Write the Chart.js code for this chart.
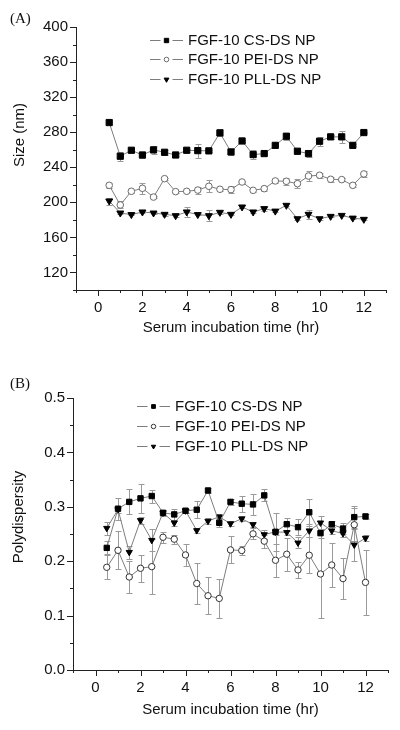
<!DOCTYPE html>
<html>
<head>
<meta charset="utf-8">
<title>FGF-10 nanoparticles in serum</title>
<script src="https://cdn.jsdelivr.net/npm/chart.js"></script>
<style>
  html, body { margin: 0; padding: 0; background: #fff; }
  #wrap { position: relative; width: 400px; height: 730px; }
  canvas { position: absolute; left: 0; }
</style>
</head>
<body>
<div id="wrap">
  <canvas id="chartA" width="400" height="365" style="top:0"></canvas>
  <canvas id="chartB" width="400" height="365" style="top:365px"></canvas>
</div>
<script>
// sampling times (hr)
const times = [0.5, 1, 1.5, 2, 2.5, 3, 3.5, 4, 4.5, 5, 5.5, 6,
               6.5, 7, 7.5, 8, 8.5, 9, 9.5, 10, 10.5, 11, 11.5, 12];

const seriesNames = ["FGF-10 CS-DS NP", "FGF-10 PEI-DS NP", "FGF-10 PLL-DS NP"];

// (A) size, nm
const csSize  = [291, 252.6, 259.4, 254, 259.8, 257.1, 254, 259.4, 259, 258.7, 279.2, 257.5,
                 270, 254.5, 255.6, 265, 275.4, 258.3, 255.6, 269.7, 274.7, 274.7, 265, 279.6];
const csSizeErr = [0, 5, 2, 3.5, 5, 3, 1, 2, 8, 1, 4, 3, 1, 5, 1, 2, 4, 3, 4, 5, 2, 7, 1, 1];
const peiSize = [219.4, 197, 212.6, 216, 206, 227, 212.2, 212.6, 214, 218.3, 214.9, 214.5,
                 223.2, 213.7, 215.6, 224.4, 224, 221.3, 230, 230.9, 226.3, 225.9, 219.4, 232.4];
const peiSizeErr = [3, 4, 2, 6, 1, 1, 1, 1, 4, 7, 2, 4, 1, 2, 3, 2, 4, 5, 6, 3, 3, 2, 2, 3];
const pllSize = [201.5, 187.8, 186, 189, 187.8, 186.3, 184.8, 189, 186, 184.8, 188.6, 186.3,
                 194.7, 189, 192.8, 190, 196.6, 181.3, 186.3, 181.3, 184, 185.1, 182, 180.6];
const pllSizeErr = [4, 1, 1, 1, 1, 2, 1, 6, 1, 6, 2, 1, 1, 1, 3, 1, 1, 1, 5, 1, 1, 1, 1, 1];

// (B) polydispersity
const csPdi  = [0.2245, 0.2965, 0.309, 0.3155, 0.3198, 0.289, 0.286, 0.2928, 0.2946, 0.330, 0.2706, 0.309,
                0.3057, 0.3044, 0.321, 0.254, 0.268, 0.2626, 0.290, 0.2515, 0.268, 0.260, 0.281, 0.2823];
const csPdiErr = [0.012, 0.02, 0.023, 0.027, 0.012, 0.005, 0.01, 0.004, 0.016, 0.004, 0.008, 0.006,
                  0.015, 0.02, 0.011, 0.035, 0.012, 0.015, 0.025, 0.008, 0.006, 0.01, 0.02, 0.005];
const peiPdi = [0.1888, 0.220, 0.171, 0.187, 0.190, 0.244, 0.2405, 0.2115, 0.159, 0.1365, 0.1316, 0.2208,
                0.2196, 0.2503, 0.2368, 0.2017, 0.2128, 0.184, 0.211, 0.1765, 0.193, 0.168, 0.267, 0.161];
const peiPdiErr = [0.022, 0.035, 0.03, 0.025, 0.05, 0.01, 0.008, 0.02, 0.038, 0.034, 0.036, 0.025,
                   0.008, 0.01, 0.012, 0.03, 0.03, 0.015, 0.033, 0.08, 0.04, 0.038, 0.03, 0.06];
const pllPdi = [0.2607, 0.295, 0.2165, 0.275, 0.2386, 0.289, 0.2706, 0.2928, 0.2565, 0.2737, 0.2817, 0.269,
                0.278, 0.2675, 0.249, 0.254, 0.253, 0.2337, 0.256, 0.2706, 0.256, 0.251, 0.230, 0.2424];
const pllPdiErr = [0.012, 0.006, 0.012, 0.006, 0.02, 0.005, 0.006, 0.004, 0.005, 0.005, 0.005, 0.005,
                   0.005, 0.005, 0.008, 0.005, 0.005, 0.01, 0.012, 0.012, 0.006, 0.006, 0.03, 0.005];

Chart.defaults.font.family = "'Liberation Sans', Arial, sans-serif";
Chart.defaults.font.size = 15;
Chart.defaults.color = "#111";

const toPoints = vals => times.map((t, i) => ({ x: t, y: vals[i] }));

// gray error bars under the markers
const errorBars = {
  id: "errorBars",
  beforeDatasetsDraw(chart) {
    const ctx = chart.ctx, xs = chart.scales.x, ys = chart.scales.y;
    ctx.save();
    ctx.strokeStyle = "#9a9a9a";
    ctx.lineWidth = 1;
    chart.data.datasets.forEach(ds => {
      if (!ds.errors) return;
      ds.data.forEach((p, i) => {
        const e = ds.errors[i];
        if (!e) return;
        const x = Math.round(xs.getPixelForValue(p.x)) + 0.5;
        const y1 = Math.round(ys.getPixelForValue(p.y + e)) + 0.5;
        const y2 = Math.round(ys.getPixelForValue(p.y - e)) + 0.5;
        ctx.beginPath();
        ctx.moveTo(x, y1); ctx.lineTo(x, y2);
        ctx.moveTo(x - 3, y1); ctx.lineTo(x + 3, y1);
        ctx.moveTo(x - 3, y2); ctx.lineTo(x + 3, y2);
        ctx.stroke();
      });
    });
    ctx.restore();
  }
};

// outward ticks, long for labelled values and short for the rest,
// plus legend, y title and panel letter
const decor = {
  id: "decor",
  afterDraw(chart, args, opts) {
    const ctx = chart.ctx, xs = chart.scales.x, ys = chart.scales.y, area = chart.chartArea;
    ctx.save();
    ctx.strokeStyle = "#222";
    ctx.lineWidth = 1;
    ctx.beginPath();
    xs.ticks.forEach(t => {
      const x = Math.round(xs.getPixelForValue(t.value)) + 0.5;
      ctx.moveTo(x, area.bottom);
      ctx.lineTo(x, area.bottom + (t.label === "" ? 3 : 6));
    });
    ys.ticks.forEach(t => {
      const y = Math.round(ys.getPixelForValue(t.value)) + 0.5;
      ctx.moveTo(area.left, y);
      ctx.lineTo(area.left - (t.label === "" ? 3 : 6), y);
    });
    ctx.stroke();

    // legend
    ctx.font = "15px 'Liberation Sans', Arial, sans-serif";
    ctx.textBaseline = "middle";
    ctx.textAlign = "left";
    chart.data.datasets.forEach((ds, i) => {
      const x0 = area.left + opts.legendX, xm = x0 + 16.5, x1 = x0 + 33;
      const y = Math.round(area.top + opts.legendY + i * opts.legendRow) + 0.5;
      ctx.strokeStyle = ds.borderColor;
      ctx.beginPath();
      ctx.moveTo(x0, y); ctx.lineTo(xm - 6, y);
      ctx.moveTo(xm + 6, y); ctx.lineTo(x1, y);
      ctx.stroke();
      ctx.fillStyle = ds.pointBackgroundColor;
      ctx.strokeStyle = ds.pointBorderColor;
      Chart.helpers.drawPoint(ctx, {
        pointStyle: ds.pointStyle, rotation: ds.pointRotation || 0,
        radius: ds.pointRadius * 0.7, borderWidth: 1
      }, xm, y);
      ctx.fillStyle = "#111";
      ctx.fillText(ds.label, x1 + 5, y);
    });

    // rotated y title
    ctx.save();
    ctx.translate(opts.yTitleX, area.top + opts.yTitleY);
    ctx.rotate(-Math.PI / 2);
    ctx.textAlign = "center";
    ctx.fillText(opts.yTitle, 0, 0);
    ctx.restore();

    // panel letter
    ctx.font = "15px 'Liberation Serif', 'Times New Roman', serif";
    ctx.fillText(opts.panel, 10, 19.5);
    ctx.restore();
  }
};

function makeDatasets(cs, csErr, pei, peiErr, pll, pllErr, big) {
  const line = "#7d7d7d";
  return [
    { label: seriesNames[0], data: toPoints(cs), errors: csErr,
      borderColor: line, borderWidth: 1,
      pointStyle: "rect", pointRadius: big ? 4.4 : 3.8,
      pointBackgroundColor: "#000", pointBorderColor: "#000", pointBorderWidth: 1 },
    { label: seriesNames[1], data: toPoints(pei), errors: peiErr,
      borderColor: line, borderWidth: 1,
      pointStyle: "circle", pointRadius: big ? 3.3 : 3.2,
      pointBackgroundColor: "#fff", pointBorderColor: big ? "#6a6a6a" : "#333", pointBorderWidth: 1 },
    { label: seriesNames[2], data: toPoints(pll), errors: pllErr,
      borderColor: line, borderWidth: 1,
      pointStyle: "triangle", pointRotation: 180, pointRadius: big ? 4 : 3.6,
      pointBackgroundColor: "#000", pointBorderColor: "#000", pointBorderWidth: 1 }
  ];
}

function makeOptions(cfg) {
  return {
    responsive: false,
    animation: false,
    layout: { padding: { left: 0, right: cfg.padRight, top: cfg.padTop, bottom: 0 } },
    plugins: {
      legend: { display: false },
      tooltip: { enabled: false },
      decor: cfg.decor
    },
    scales: {
      x: {
        type: "linear", min: -1, max: 13,
        ticks: { stepSize: 1, padding: 3, maxRotation: 0, autoSkip: false,
                 callback: v => (v % 2 === 0 ? v : "") },
        grid: { drawOnChartArea: false, drawTicks: true, tickLength: 6, color: "rgba(0,0,0,0)" },
        border: { color: "#222", width: 1 },
        title: { display: true, text: "Serum incubation time (hr)", padding: { top: 0, bottom: cfg.xTitlePad } },
        afterFit: s => { s.height = cfg.xHeight; }
      },
      y: {
        min: cfg.yMin, max: cfg.yMax,
        ticks: { stepSize: cfg.yStep, padding: 2, autoSkip: false, callback: cfg.yLabel },
        grid: { drawOnChartArea: false, drawTicks: true, tickLength: 6, color: "rgba(0,0,0,0)" },
        border: { color: "#222", width: 1 },
        afterFit: s => { s.width = cfg.yWidth; }
      }
    }
  };
}

new Chart(document.getElementById("chartA"), {
  type: "line",
  data: { datasets: makeDatasets(csSize, csSizeErr, peiSize, peiSizeErr, pllSize, pllSizeErr, true) },
  options: makeOptions({
    padTop: 27, padRight: 14, xHeight: 75, xTitlePad: 28, yWidth: 76,
    yMin: 100, yMax: 400, yStep: 20,
    yLabel: v => ((v - 120) % 40 === 0 ? v : ""),
    decor: { panel: "(A)", yTitle: "Size (nm)", yTitleX: 20, yTitleY: 108,
             legendX: 74, legendY: 12.5, legendRow: 19.5 }
  }),
  plugins: [errorBars, decor]
});

new Chart(document.getElementById("chartB"), {
  type: "line",
  data: { datasets: makeDatasets(csPdi, csPdiErr, peiPdi, peiPdiErr, pllPdi, pllPdiErr, false) },
  options: makeOptions({
    padTop: 33, padRight: 12, xHeight: 60, xTitlePad: 11, yWidth: 73,
    yMin: 0, yMax: 0.5, yStep: 0.05,
    yLabel: v => (Math.abs(Math.round(v * 10) - v * 10) < 1e-6 ? v.toFixed(1) : ""),
    decor: { panel: "(B)", yTitle: "Polydispersity", yTitleX: 19, yTitleY: 119,
             legendX: 64, legendY: 8, legendRow: 20 }
  }),
  plugins: [errorBars, decor]
});
</script>
</body>
</html>
